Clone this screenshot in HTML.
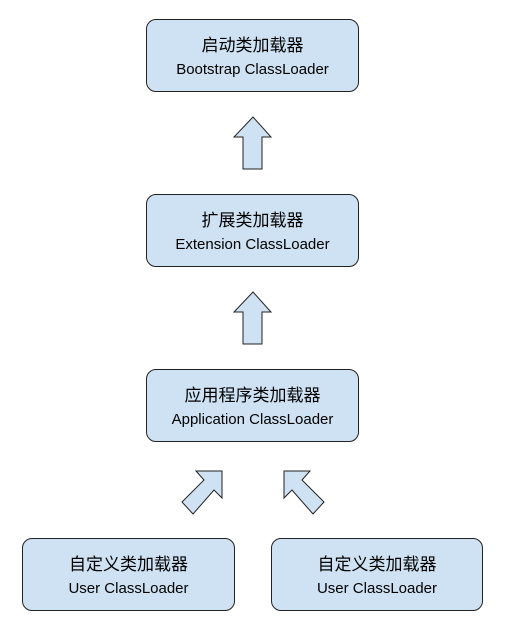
<!DOCTYPE html>
<html><head><meta charset="utf-8"><style>
body{margin:0;width:506px;height:629px;background:#fff;position:relative;overflow:hidden;font-family:"Liberation Sans","Noto Sans CJK SC",sans-serif;color:#000}
.b{position:absolute;box-sizing:border-box;background:#cfe2f3;border:1px solid #222;border-radius:10px;text-align:center}
.c{font-size:17px;margin-top:15px;line-height:21px}
.e{font-size:15px;line-height:18px;margin-top:5px}
svg{position:absolute;left:0;top:0}
</style></head><body>
<div class="b" style="left:146px;top:19px;width:213px;height:73px"><div class="c">启动类加载器</div><div class="e">Bootstrap ClassLoader</div></div>
<div class="b" style="left:146px;top:194px;width:213px;height:73px"><div class="c">扩展类加载器</div><div class="e">Extension ClassLoader</div></div>
<div class="b" style="left:146px;top:369px;width:213px;height:73px"><div class="c">应用程序类加载器</div><div class="e">Application ClassLoader</div></div>
<div class="b" style="left:22px;top:538px;width:213px;height:73px"><div class="c">自定义类加载器</div><div class="e">User ClassLoader</div></div>
<div class="b" style="left:271px;top:538px;width:212px;height:73px"><div class="c">自定义类加载器</div><div class="e">User ClassLoader</div></div>
<svg width="506" height="629">
<g fill="#cfe2f3" stroke="#222" stroke-width="1">
<polygon points="253,117 271,137 262,137 262,169 243,169 243,137 234,137"/>
<polygon points="253,292 271,312 262,312 262,344 243,344 243,312 234,312"/>
<polygon points="222,471 222,498 214,490 193,514 182,502 204,480 196,471"/>
<polygon points="284,471 284,498 292,490 313,514 324,502 302,480 310,471"/>
</g></svg>
</body></html>
